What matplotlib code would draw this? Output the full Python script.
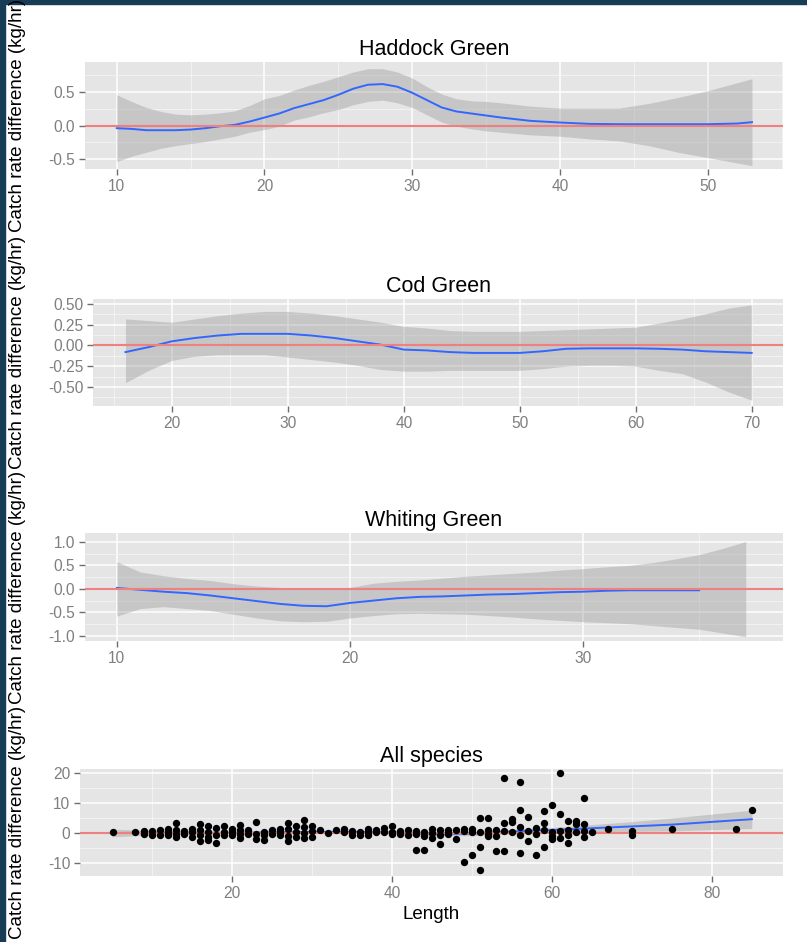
import numpy as np
import matplotlib
matplotlib.use('Agg')
import matplotlib.pyplot as plt
from matplotlib.patches import Rectangle
from matplotlib.ticker import FormatStrFormatter

plt.rcParams['font.family'] = ['Liberation Sans', 'DejaVu Sans']
plt.rcParams['axes.unicode_minus'] = False

# Haddock Green - smoothed catch rate difference with confidence band
had_x = [10, 11, 12, 13, 14, 15, 16, 17, 18, 19, 20, 21, 22, 23, 24, 25, 26, 27, 28, 29,
         30, 31, 32, 33, 34, 35, 36, 38, 40, 42, 44, 46, 48, 50, 52, 53]
had_fit = [-0.04, -0.05, -0.07, -0.07, -0.07, -0.06, -0.04, -0.01, 0.01, 0.06, 0.12, 0.18,
           0.26, 0.32, 0.38, 0.46, 0.55, 0.61, 0.62, 0.58, 0.49, 0.38, 0.27, 0.21, 0.18,
           0.15, 0.12, 0.07, 0.045, 0.025, 0.02, 0.02, 0.02, 0.02, 0.03, 0.05]
had_hi = [0.46, 0.36, 0.27, 0.21, 0.17, 0.16, 0.17, 0.19, 0.22, 0.30, 0.40, 0.45, 0.53, 0.60,
          0.66, 0.73, 0.80, 0.85, 0.85, 0.80, 0.71, 0.58, 0.47, 0.40, 0.37, 0.36, 0.34, 0.29,
          0.26, 0.26, 0.26, 0.33, 0.42, 0.52, 0.64, 0.70]
had_lo = [-0.54, -0.46, -0.40, -0.34, -0.30, -0.27, -0.24, -0.20, -0.16, -0.10, -0.06, -0.01,
          0.08, 0.13, 0.19, 0.24, 0.31, 0.36, 0.38, 0.34, 0.27, 0.16, 0.05, -0.01, -0.05,
          -0.08, -0.10, -0.14, -0.16, -0.20, -0.23, -0.30, -0.40, -0.48, -0.56, -0.60]

# Cod Green
cod_x = [16, 18, 20, 22, 24, 26, 28, 30, 32, 34, 36, 38, 40, 42, 44, 46, 48, 50, 52, 54,
         56, 58, 60, 62, 64, 66, 68, 70]
cod_fit = [-0.08, -0.02, 0.05, 0.09, 0.12, 0.14, 0.14, 0.14, 0.12, 0.09, 0.05, 0.01, -0.05,
           -0.06, -0.08, -0.09, -0.09, -0.09, -0.07, -0.04, -0.035, -0.035, -0.035, -0.04,
           -0.05, -0.07, -0.08, -0.09]
cod_hi = [0.32, 0.30, 0.28, 0.32, 0.36, 0.39, 0.41, 0.41, 0.39, 0.36, 0.32, 0.28, 0.23, 0.21,
          0.18, 0.17, 0.17, 0.17, 0.18, 0.19, 0.20, 0.21, 0.22, 0.27, 0.32, 0.38, 0.45, 0.49]
cod_lo = [-0.45, -0.30, -0.18, -0.13, -0.11, -0.11, -0.11, -0.14, -0.17, -0.20, -0.24, -0.29,
          -0.31, -0.31, -0.30, -0.30, -0.30, -0.30, -0.28, -0.25, -0.24, -0.24, -0.25, -0.30,
          -0.34, -0.44, -0.56, -0.66]

# Whiting Green (fitted line stops before the band does)
whi_x = [10, 11, 12, 13, 14, 15, 16, 17, 18, 19, 20, 21, 22, 23, 24, 25, 26, 27, 28, 29,
         30, 31, 32, 33, 34, 35, 36, 37]
whi_fit = [0.02, -0.02, -0.06, -0.09, -0.14, -0.20, -0.26, -0.32, -0.36, -0.37, -0.30, -0.25,
           -0.20, -0.17, -0.16, -0.14, -0.12, -0.11, -0.09, -0.07, -0.06, -0.04, -0.03, -0.03,
           -0.03, -0.03, np.nan, np.nan]
whi_hi = [0.58, 0.36, 0.28, 0.22, 0.18, 0.11, 0.06, 0.03, 0.01, 0.0, 0.03, 0.12, 0.16, 0.19,
          0.23, 0.27, 0.30, 0.33, 0.36, 0.40, 0.43, 0.47, 0.50, 0.56, 0.64, 0.73, 0.86, 1.01]
whi_lo = [-0.58, -0.42, -0.38, -0.42, -0.46, -0.54, -0.62, -0.68, -0.70, -0.69, -0.62, -0.57,
          -0.53, -0.52, -0.53, -0.54, -0.57, -0.60, -0.64, -0.67, -0.70, -0.72, -0.74, -0.78,
          -0.82, -0.86, -0.94, -1.02]

# All species - smooth
all_x = [5, 10, 15, 20, 25, 30, 35, 40, 45, 50, 55, 60, 65, 70, 75, 80, 85]
all_fit = [0.0, 0.1, 0.1, 0.1, 0.2, 0.4, 0.4, 0.2, -0.3, -0.2, 0.5, 1.0, 1.6, 2.2, 2.8, 3.7, 4.6]
all_hi = [1.3, 0.8, 0.6, 0.5, 0.6, 0.8, 0.8, 0.6, 0.3, 0.5, 1.3, 1.8, 2.8, 3.8, 5.0, 6.3, 7.6]
all_lo = [-1.3, -0.6, -0.4, -0.3, -0.2, 0.0, 0.0, -0.2, -0.9, -0.9, -0.3, 0.2, 0.4, 0.6, 0.7, 1.1, 1.5]

# All species - observations, grouped by length
pt_length = [5.1, 7.9, 9, 10, 11, 12, 13, 14, 15, 16, 17, 18, 19, 20, 21, 22, 23, 24, 25, 26,
             27, 28, 29, 30, 31, 32, 33, 34, 35, 36, 37, 38, 39, 40, 41, 42, 43, 44, 45, 46,
             47, 48, 49, 50, 51, 52, 53, 54, 55, 56, 57, 58, 59, 60, 61, 62, 63, 64, 65, 67,
             70, 75, 83, 85]
pt_diff = [[0.2], [0.2], [0.6, -0.3], [0.8, -0.6], [0.9, -0.6], [1.5, 0.4, -0.8],
           [3.2, 1.0, -0.3, -1.2], [0.6, -0.3], [1.2, 0.2, -1.2], [3.0, 1.0, -0.5, -2.8],
           [2.2, 0.5, -1.2, -2.2], [1.8, -0.5, -3.2], [2.3, 0.5, -0.6], [1.5, 0.3, -0.8],
           [2.8, 1.0, -0.3, -1.5], [1.0, -0.3], [3.8, -0.3, -2.0], [0.2, -0.8, -2.2],
           [1.0, -0.3], [1.5, 0.2, -0.5], [3.3, 1.5, -1.0, -2.8], [2.3, 0.3, -1.2],
           [4.2, 2.0, 0.0, -1.5], [2.5, 0.8, -1.2], [1.0], [0.0], [1.0], [1.5, 0.3],
           [0.8, -0.5], [0.3, -0.8], [1.5, 0.5, -0.8], [1.0, 0.2], [1.6, 0.3],
           [2.5, 0.5, -0.3], [0.8, -0.3], [1.0, -0.5], [0.8, -0.3, -5.8], [0.5, -1.0, -5.8],
           [1.5, 0.0, -1.5], [1.0, -0.5, -3.8], [1.0, 0.5, -0.3], [1.0, -2.0],
           [1.5, 0.8, -9.8], [1.5, 0.3, -7.3], [5.0, 0.5, -4.8, -12.3], [5.0, 1.0, -0.3, -1.0],
           [1.0, -1.0, -6.0], [18.3, 3.2, 0.8, -6.0], [4.5, 3.8, 0.5],
           [16.9, 7.7, 2.0, -0.5, -6.7], [5.2, 0.8, -2.5], [1.8, -0.3, -7.2],
           [7.2, 3.3, 1.0, -4.8], [9.2, 0.5, -1.0, -2.0], [19.9, 6.2, 0.8, -1.5],
           [4.0, 1.0, -0.5, -3.3], [4.0, 3.0, 0.5], [11.7, 3.0, 0.8, -1.2], [0.5], [1.2],
           [0.8, -0.5], [1.2], [1.2], [7.7]]

zero_line = 0
ylab = 'Catch rate difference (kg/hr)'

W, H = 807, 942
fig = plt.figure(figsize=(W / 100, H / 100), dpi=100)

# dark slide border (top and left)
fig.patches.append(Rectangle((0, 1 - 4 / H), 1, 4 / H, transform=fig.transFigure,
                             color='#173D56', zorder=0))
fig.patches.append(Rectangle((0, 0), 5 / W, 1, transform=fig.transFigure,
                             color='#173D56', zorder=0))


def add_panel(left, top, bottom, right=783):
    return fig.add_axes([left / W, 1 - bottom / H, (right - left) / W, (bottom - top) / H])


def gg_style(ax, xlim, ylim, xmaj, xmin, ymaj, ymin, yfmt):
    ax.set_facecolor('#E5E5E5')
    for s in ax.spines.values():
        s.set_visible(False)
    ax.set_xlim(xlim)
    ax.set_ylim(ylim)
    ax.set_xticks(xmaj)
    ax.set_xticks(xmin, minor=True)
    ax.set_yticks(ymaj)
    ax.set_yticks(ymin, minor=True)
    ax.yaxis.set_major_formatter(FormatStrFormatter(yfmt))
    ax.grid(which='major', color='white', lw=1.1)
    ax.grid(which='minor', color='#F4F4F4', lw=0.6)
    ax.set_axisbelow(True)
    ax.tick_params(which='minor', length=0)
    ax.tick_params(which='major', length=4, width=1, color='#6E6E6E',
                   labelcolor='#7F7F7F', labelsize=11.2, pad=3)


def smooth_panel(ax, x, fit, lo, hi, title):
    ax.fill_between(x, lo, hi, color='#999999', alpha=0.4, lw=0, zorder=2)
    ax.plot(x, fit, color='#3366FF', lw=1.4, zorder=3)
    ax.axhline(zero_line, color='#F08080', lw=1.5, zorder=4)
    ax.set_title(title, fontsize=15.5, pad=5)


# Haddock
ax1 = add_panel(85, 62, 169)
smooth_panel(ax1, had_x, had_fit, had_lo, had_hi, 'Haddock Green')
gg_style(ax1, (7.85, 55.1), (-0.65, 0.95), [10, 20, 30, 40, 50], [15, 25, 35, 45, 55],
         [-0.5, 0, 0.5], [-0.25, 0.25, 0.75], '%.1f')

# Cod
ax2 = add_panel(93, 299, 406)
smooth_panel(ax2, cod_x, cod_fit, cod_lo, cod_hi, 'Cod Green')
gg_style(ax2, (13.2, 72.7), (-0.73, 0.56), [20, 30, 40, 50, 60, 70],
         [15, 25, 35, 45, 55, 65], [-0.5, -0.25, 0, 0.25, 0.5],
         [-0.625, -0.375, -0.125, 0.125, 0.375], '%.2f')

# Whiting
ax3 = add_panel(85, 533, 641)
smooth_panel(ax3, whi_x, whi_fit, whi_lo, whi_hi, 'Whiting Green')
gg_style(ax3, (8.63, 38.6), (-1.11, 1.19), [10, 20, 30], [15, 25, 35],
         [-1.0, -0.5, 0, 0.5, 1.0], [-0.75, -0.25, 0.25, 0.75], '%.1f')

# All species
ax4 = add_panel(80, 769, 876)
ax4.fill_between(all_x, all_lo, all_hi, color='#999999', alpha=0.4, lw=0, zorder=2)
ax4.plot(all_x, all_fit, color='#3366FF', lw=1.4, zorder=3)
ax4.axhline(zero_line, color='#F08080', lw=1.5, zorder=4)
px = np.repeat(pt_length, [len(d) for d in pt_diff])
py = np.concatenate(pt_diff)
ax4.scatter(px, py, s=28, color='black', lw=0, zorder=5)
ax4.set_title('All species', fontsize=15.5, pad=5)
gg_style(ax4, (1.0, 88.9), (-14.3, 21.3), [20, 40, 60, 80], [10, 30, 50, 70],
         [-10, 0, 10, 20], [-5, 5, 15], '%d')
ax4.set_xlabel('Length', fontsize=13.5, labelpad=4)

# y labels, one per panel, centred on panel (they overlap like the original)
for top, bottom in [(62, 169), (299, 406), (533, 641), (769, 876)]:
    fig.text(18 / W, 1 - (top + bottom) / 2 / H, ylab, rotation=90, ha='center',
             va='center', fontsize=13.5)

fig.savefig('out.png', dpi=100)
